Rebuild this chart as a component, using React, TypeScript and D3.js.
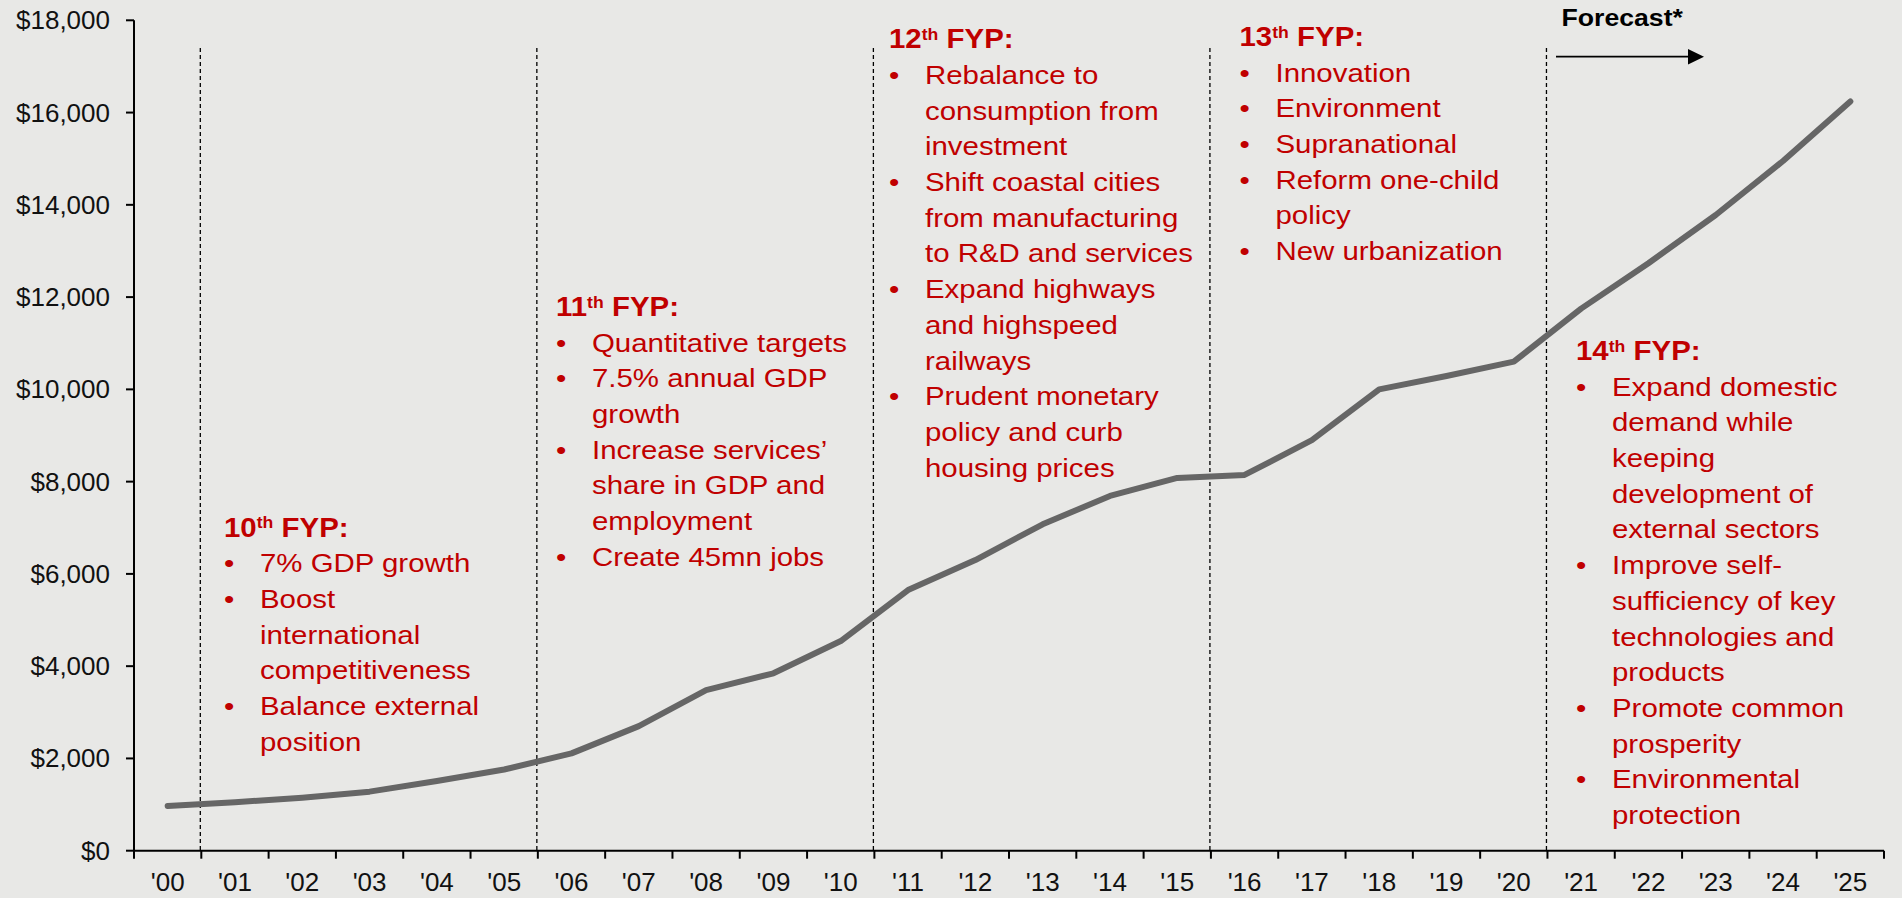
import React from "react";
import * as d3 from "d3";

const years = ["'00","'01","'02","'03","'04","'05","'06","'07","'08","'09","'10","'11","'12","'13","'14","'15","'16","'17","'18","'19","'20","'21","'22","'23","'24","'25"];
const gdpPerCapita = [970,1050,1150,1280,1510,1760,2110,2700,3480,3845,4545,5650,6300,7075,7690,8080,8145,8900,10000,10290,10600,11750,12735,13780,14950,16240];
const yTicks = [0,2000,4000,6000,8000,10000,12000,14000,16000,18000];
const planStarts = ["'01","'06","'11","'16","'21"];

const plan10Items = [["7% GDP growth"],["Boost","international","competitiveness"],["Balance external","position"]];
const plan11Items = [["Quantitative targets"],["7.5% annual GDP","growth"],["Increase services\u2019","share in GDP and","employment"],["Create 45mn jobs"]];
const plan12Items = [["Rebalance to","consumption from","investment"],["Shift coastal cities","from manufacturing","to R&D and services"],["Expand highways","and highspeed","railways"],["Prudent monetary","policy and curb","housing prices"]];
const plan13Items = [["Innovation"],["Environment"],["Supranational"],["Reform one-child","policy"],["New urbanization"]];
const plan14Items = [["Expand domestic","demand while","keeping","development of","external sectors"],["Improve self-","sufficiency of key","technologies and","products"],["Promote common","prosperity"],["Environmental","protection"]];
const planNumbers = ["10","11","12","13","14"];

const W = 1902, H = 898;
const FONT = "'Liberation Sans', Arial, Helvetica, sans-serif";
const RED = "#C00000";
const BG = "#E8E8E6";

const x = d3.scaleBand<string>().domain(years).range([134, 1884]).padding(0);
const y = d3.scaleLinear().domain([0, 18000]).range([850.7, 20.3]);

const fmt = (v: number) => "$" + d3.format(",")(v);

const blocks = [
  { num: planNumbers[0], items: plan10Items, tx: 224, ty: 536.7 },
  { num: planNumbers[1], items: plan11Items, tx: 556, ty: 316 },
  { num: planNumbers[2], items: plan12Items, tx: 889, ty: 48.3 },
  { num: planNumbers[3], items: plan13Items, tx: 1239.5, ty: 46 },
  { num: planNumbers[4], items: plan14Items, tx: 1576, ty: 360 },
];

const STRETCH = 1.11;
const TITLE_STRETCH = 1.07;
const PITCH = 35.7;
const FS = 26.5;
const TFS = 27.5;

function Block({ num, items, tx, ty }: { num: string; items: string[][]; tx: number; ty: number }) {
  const rows: React.ReactNode[] = [];
  let line = 1;
  items.forEach((item, i) => {
    item.forEach((t, j) => {
      const yy = line * PITCH;
      if (j === 0) {
        rows.push(
          <text key={`b${i}`} x={0} y={yy} fontSize={FS} fill={RED}>{"\u2022"}</text>
        );
      }
      rows.push(
        <text key={`t${i}-${j}`} x={36 / STRETCH} y={yy} fontSize={FS} fill={RED}>{t}</text>
      );
      line++;
    });
  });
  return (
    <g fontFamily={FONT}>
      <g transform={`translate(${tx},${ty}) scale(${TITLE_STRETCH},1)`}>
        <text x={0} y={0} fontSize={TFS} fontWeight="bold" fill={RED}>
          <tspan>{num}</tspan>
          <tspan fontSize={16.5} dy={-8.5}>th</tspan>
          <tspan dy={8.5}>{" FYP:"}</tspan>
        </text>
      </g>
      <g transform={`translate(${tx},${ty}) scale(${STRETCH},1)`}>{rows}</g>
    </g>
  );
}

export default function App() {
  const bw = x.bandwidth();
  const line = d3
    .line<number>()
    .x((_, i) => (x(years[i]) as number) + bw / 2)
    .y((d) => y(d));
  const boundaries = years.map((yr) => x(yr) as number).concat([x.range()[1]]);
  const y0 = y(0);
  const xLeft = x.range()[0];
  const xRight = x.range()[1];

  return (
    <svg width={W} height={H} style={{ position: "absolute", left: 0, top: 0 }} fontFamily={FONT}>
      <rect x={0} y={0} width={W} height={H} fill={BG} />

      {/* dashed plan separators */}
      {planStarts.map((p) => (
        <line key={p} x1={(x(p) as number) - 1} x2={(x(p) as number) - 1} y1={48} y2={y0}
          stroke="#000" strokeWidth={1.3} strokeDasharray="4,3" />
      ))}

      {/* y axis */}
      <line x1={xLeft} x2={xLeft} y1={y(18000)} y2={y0} stroke="#000" strokeWidth={2} />
      {yTicks.map((t) => (
        <g key={t}>
          <line x1={xLeft - 8} x2={xLeft} y1={y(t)} y2={y(t)} stroke="#000" strokeWidth={2} />
          <text x={110} y={y(t)} dy={9} textAnchor="end" fontSize={26} fill="#111">{fmt(t)}</text>
        </g>
      ))}

      {/* x axis */}
      <line x1={xLeft} x2={xRight} y1={y0} y2={y0} stroke="#000" strokeWidth={2} />
      {boundaries.map((b, i) => (
        <line key={i} x1={b} x2={b} y1={y0} y2={y0 + 8} stroke="#000" strokeWidth={2} />
      ))}
      {years.map((yr) => (
        <text key={yr} x={(x(yr) as number) + bw / 2} y={890.5} textAnchor="middle" fontSize={26} fill="#111">{yr}</text>
      ))}

      {/* data line */}
      <path d={line(gdpPerCapita) || ""} fill="none" stroke="#666666" strokeWidth={6}
        strokeLinejoin="round" strokeLinecap="round" />

      {/* annotations */}
      {blocks.map((b) => (
        <Block key={b.num} {...b} />
      ))}

      {/* forecast label and arrow */}
      <g transform={`translate(1561.5,26) scale(${STRETCH},1)`}>
        <text x={0} y={0} fontSize={24} fontWeight="bold" fill="#000">Forecast*</text>
      </g>
      <line x1={1556} x2={1690} y1={56.7} y2={56.7} stroke="#000" strokeWidth={1.8} />
      <polygon points="1688,49 1704,56.7 1688,64.4" fill="#000" />
    </svg>
  );
}
